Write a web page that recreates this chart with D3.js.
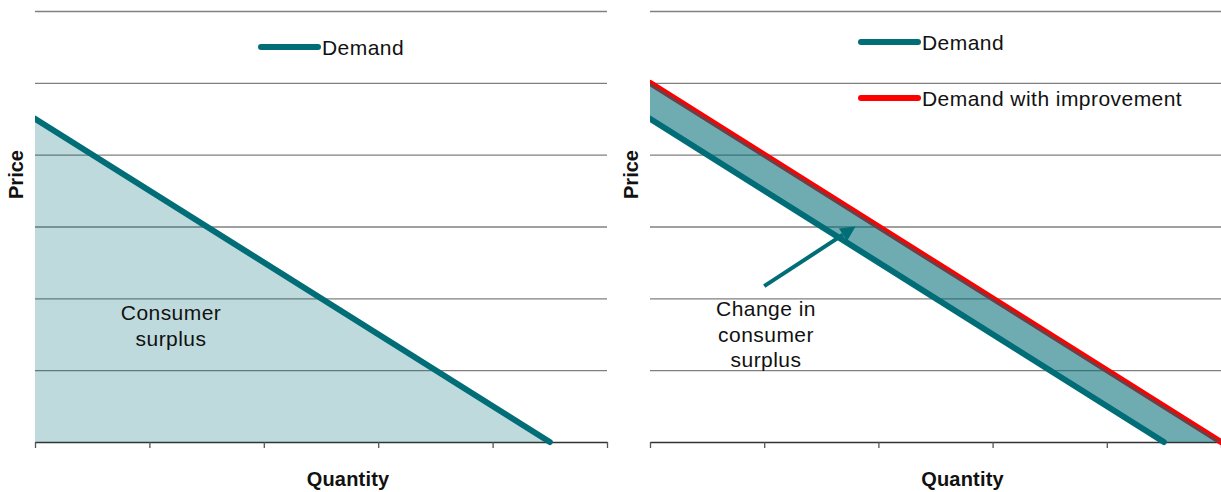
<!DOCTYPE html>
<html>
<head>
<meta charset="utf-8">
<script src="https://cdn.jsdelivr.net/npm/d3@7"></script>
<style>
  html, body { margin: 0; padding: 0; background: #fff; }
  svg text { font-family: "Liberation Sans", Arial, sans-serif; fill: #111; }
</style>
</head>
<body>
<svg id="chart" width="1221" height="492"></svg>
<script>
// Axis ticks (unlabelled) for both panels
const quantityTicks = [0, 1, 2, 3, 4, 5];
const priceTicks = [0, 1, 2, 3, 4, 5, 6];

// Demand curve: price falls linearly with quantity
const demandQuantity = [0, 4.5];
const demandPrice = [4.5, 0];

// Demand curve after the improvement
const improvedQuantity = [0, 5];
const improvedPrice = [5, 0];

// Annotation arrow (from label towards the shaded band)
const arrowQuantity = [1.0, 1.8];
const arrowPrice = [2.17, 3.0];

const TEAL = "#006d77";
const RED = "#ff0000";
const GRID = "#808080";

const svg = d3.select("#chart");

const panels = [
  { left: 35, right: 607, id: "a" },
  { left: 650, right: 1221, id: "b" }
];
const plotTop = 11, plotBottom = 442;

function pts(xs, ys) { return xs.map((x, i) => [x, ys[i]]); }

function bodyText(sel) {
  return sel.style("font-size", "21px").style("letter-spacing", "0.45px");
}

function drawFrame(p) {
  const x = d3.scaleLinear().domain([0, 5]).range([p.left, p.right]);
  const y = d3.scaleLinear().domain([0, 6]).range([plotBottom, plotTop]);
  const g = svg.append("g");

  // horizontal gridlines
  g.append("g")
    .attr("transform", `translate(${p.left},0)`)
    .call(d3.axisLeft(y).tickValues(priceTicks.slice(1)).tickSize(-(p.right - p.left)).tickFormat(""))
    .call(s => s.select(".domain").remove())
    .call(s => s.selectAll(".tick line").attr("stroke", GRID).attr("stroke-width", 1.3));

  // bottom axis with ticks
  g.append("g")
    .attr("transform", `translate(0,${plotBottom})`)
    .call(d3.axisBottom(x).tickValues(quantityTicks).tickSize(6).tickSizeOuter(0).tickFormat(""))
    .call(s => s.select(".domain").attr("stroke", "#333").attr("stroke-width", 1.3))
    .call(s => s.selectAll(".tick line").attr("stroke", "#555").attr("stroke-width", 1.3));

  svg.append("defs").append("clipPath").attr("id", "clip-" + p.id)
    .append("rect").attr("x", p.left).attr("y", 0)
    .attr("width", p.right - p.left + 20).attr("height", plotBottom + 10);

  // axis titles
  svg.append("text")
    .attr("transform", `translate(${p.left - 17},${(plotTop + plotBottom) / 2 - 52}) rotate(-90)`)
    .attr("text-anchor", "middle")
    .attr("dominant-baseline", "middle")
    .style("font-weight", "bold").style("font-size", "20px")
    .text("Price");
  svg.append("text")
    .attr("x", (p.left + p.right) / 2 + 27).attr("y", 486)
    .attr("text-anchor", "middle")
    .style("font-weight", "bold").style("font-size", "20px")
    .style("letter-spacing", "0.2px")
    .text("Quantity");

  return { x, y };
}

function legendItem(x0, yc, color, label) {
  svg.append("line")
    .attr("x1", x0).attr("x2", x0 + 57).attr("y1", yc).attr("y2", yc)
    .attr("stroke", color).attr("stroke-width", 6).attr("stroke-linecap", "round");
  svg.append("text")
    .attr("x", x0 + 61).attr("y", yc + 7.5)
    .call(bodyText)
    .text(label);
}

// ---- Left panel: consumer surplus ----
{
  const p = panels[0];
  const { x, y } = drawFrame(p);
  const g = svg.append("g").attr("clip-path", "url(#clip-a)");
  const demand = pts(demandQuantity, demandPrice);

  // area under the demand curve
  const area = d3.area().x(d => x(d[0])).y0(y(0)).y1(d => y(d[1]));
  g.append("path").datum(demand).attr("d", area)
    .attr("fill", TEAL).attr("fill-opacity", 0.25);

  g.append("path").datum(demand)
    .attr("d", d3.line().x(d => x(d[0])).y(d => y(d[1])))
    .attr("fill", "none").attr("stroke", TEAL).attr("stroke-width", 6)
    .attr("stroke-linecap", "round");

  const t = svg.append("text").attr("text-anchor", "middle").call(bodyText);
  t.append("tspan").attr("x", 171).attr("y", 320).text("Consumer");
  t.append("tspan").attr("x", 171).attr("y", 346).text("surplus");

  legendItem(261, 47, TEAL, "Demand");
}

// ---- Right panel: change in consumer surplus ----
{
  const p = panels[1];
  const { x, y } = drawFrame(p);
  const g = svg.append("g").attr("clip-path", "url(#clip-b)");
  const demand = pts(demandQuantity, demandPrice);
  const improved = pts(improvedQuantity, improvedPrice);
  const line = d3.line().x(d => x(d[0])).y(d => y(d[1]));

  g.append("path").datum(demand).attr("d", line)
    .attr("fill", "none").attr("stroke", TEAL).attr("stroke-width", 6)
    .attr("stroke-linecap", "round");
  g.append("path").datum(improved).attr("d", line)
    .attr("fill", "none").attr("stroke", RED).attr("stroke-width", 6)
    .attr("stroke-linecap", "round");

  // band between the two demand curves
  const band = improved.concat(demand.slice().reverse());
  g.append("path").datum(band)
    .attr("d", d3.line().x(d => x(d[0])).y(d => y(d[1])).curve(d3.curveLinearClosed))
    .attr("fill", TEAL).attr("fill-opacity", 0.57);

  // annotation arrow
  const a = pts(arrowQuantity, arrowPrice).map(d => [x(d[0]), y(d[1])]);
  const ang = Math.atan2(a[1][1] - a[0][1], a[1][0] - a[0][0]);
  const headLen = 15, headW = 7.5;
  const base = [a[1][0] - headLen * Math.cos(ang), a[1][1] - headLen * Math.sin(ang)];
  svg.append("line")
    .attr("x1", a[0][0]).attr("y1", a[0][1]).attr("x2", base[0]).attr("y2", base[1])
    .attr("stroke", TEAL).attr("stroke-width", 4);
  svg.append("path")
    .attr("d", d3.line()([
      a[1],
      [base[0] + headW * Math.sin(ang), base[1] - headW * Math.cos(ang)],
      [base[0] - headW * Math.sin(ang), base[1] + headW * Math.cos(ang)]
    ]) + "Z")
    .attr("fill", TEAL);

  const t = svg.append("text").attr("text-anchor", "middle").call(bodyText);
  t.append("tspan").attr("x", 766).attr("y", 316).text("Change in");
  t.append("tspan").attr("x", 766).attr("y", 342).text("consumer");
  t.append("tspan").attr("x", 766).attr("y", 367).text("surplus");

  legendItem(861, 42, TEAL, "Demand");
  legendItem(861, 98, RED, "Demand with improvement");
}
</script>
</body>
</html>
